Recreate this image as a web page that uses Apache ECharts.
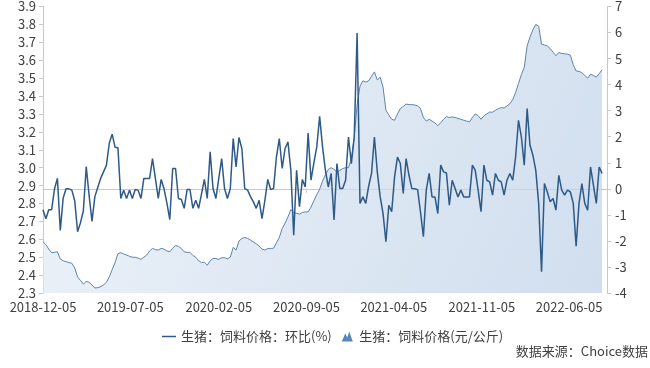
<!DOCTYPE html>
<html>
<head>
<meta charset="utf-8">
<script src="https://cdn.jsdelivr.net/npm/echarts@6/dist/echarts.min.js"></script>
<style>
html,body{margin:0;padding:0;background:#fff;}
#chart{width:650px;height:368px;}
</style>
</head>
<body>
<div id="chart"></div>
<script>
// ---- data ----
const startDate = [2018, 12, 5];      // first weekly observation (Wednesday)
const weekCount = 195;                // weekly observations
const axisEnd = [2022, 9, 5];
const tickDates = ['2018-12-05','2019-07-05','2020-02-05','2020-09-05','2021-04-05','2021-11-05','2022-06-05'];

const seriesRingName = '生猪：饲料价格：环比(%)';
const seriesPriceName = '生猪：饲料价格(元/公斤)';

// 生猪：饲料价格(元/公斤) — left axis
const priceVals = [
 2.586,2.57,2.545,2.525,2.527,2.53,2.49,2.48,2.475,2.47,
 2.466,2.44,2.39,2.37,2.35,2.365,2.36,2.345,2.328,2.33,
 2.335,2.345,2.36,2.39,2.43,2.47,2.52,2.525,2.518,2.512,
 2.505,2.50,2.499,2.495,2.488,2.50,2.512,2.535,2.549,2.542,
 2.54,2.549,2.545,2.535,2.53,2.55,2.566,2.56,2.548,2.53,
 2.527,2.527,2.51,2.50,2.48,2.47,2.472,2.455,2.48,2.493,
 2.492,2.488,2.497,2.497,2.49,2.50,2.555,2.54,2.59,2.605,
 2.61,2.605,2.595,2.585,2.575,2.562,2.545,2.54,2.548,2.549,
 2.55,2.58,2.61,2.66,2.69,2.725,2.765,2.75,2.745,2.74,
 2.75,2.753,2.753,2.78,2.815,2.85,2.88,2.925,2.96,2.99,
 3.0,2.99,2.975,2.985,2.995,3.0,3.0,3.05,3.17,3.35,
 3.455,3.485,3.478,3.485,3.51,3.535,3.49,3.505,3.45,3.32,
 3.295,3.27,3.265,3.30,3.33,3.342,3.355,3.352,3.352,3.35,
 3.345,3.33,3.28,3.26,3.27,3.26,3.25,3.235,3.25,3.27,
 3.285,3.28,3.283,3.28,3.275,3.27,3.265,3.26,3.255,3.28,
 3.30,3.29,3.27,3.29,3.30,3.31,3.31,3.32,3.33,3.335,
 3.333,3.345,3.357,3.38,3.42,3.47,3.52,3.56,3.68,3.73,
 3.77,3.80,3.79,3.69,3.685,3.68,3.665,3.645,3.625,3.643,
 3.638,3.636,3.634,3.628,3.575,3.54,3.538,3.53,3.515,3.50,
 3.522,3.515,3.506,3.525,3.547
];

// 生猪：饲料价格：环比(%) — right axis
const ringVals = [
 -0.8,-1.15,-0.8,-0.8,0.0,0.4,-1.6,-0.35,0.0,0.0,
 -0.05,-0.45,-1.65,-1.3,-0.85,0.85,-0.25,-1.25,-0.3,0.05,
 0.4,0.65,0.9,1.75,2.1,1.6,1.58,-0.37,-0.05,-0.37,
 -0.05,-0.37,-0.03,-0.05,-0.37,0.4,0.4,0.4,1.16,0.4,
 -0.37,0.36,0.0,-0.55,-1.18,0.78,0.78,-0.37,-0.41,-0.75,
 -0.03,-0.03,-0.75,-0.44,-0.75,-0.2,0.36,-0.37,1.42,0.01,
 -0.37,0.4,1.16,0.01,-0.37,0.01,1.93,0.84,1.97,1.55,
 0.01,-0.05,-0.3,-0.5,-0.75,-0.44,-1.14,-0.44,0.36,-0.03,
 0.01,1.22,1.93,0.78,1.55,1.8,0.71,-1.78,0.71,-0.69,
 0.36,0.07,2.14,0.33,1.0,1.61,2.78,1.61,0.71,0.07,
 0.59,-1.2,0.97,0.01,0.01,0.33,1.99,0.97,1.99,5.98,
 -0.56,-0.31,-0.56,0.1,0.59,1.99,0.65,-0.3,-0.95,-2.03,
 -0.63,-0.88,0.46,1.22,0.97,-0.18,1.16,0.52,0.01,0.0,
 -0.03,-0.9,-1.84,-0.05,0.59,-0.31,-0.31,-0.95,0.91,0.65,
 0.61,-0.63,0.33,0.01,-0.31,-0.05,-0.31,-0.31,-0.31,0.91,
 0.71,-0.05,-0.88,0.91,0.33,0.27,-0.24,0.59,0.33,0.27,
 -0.24,0.33,0.59,0.33,1.22,2.63,1.99,0.91,3.08,1.67,
 1.29,0.71,-0.56,-3.18,0.2,-0.12,-0.5,-0.37,-0.82,0.52,
 -0.05,-0.24,-0.05,-0.12,-0.56,-2.2,-0.56,0.2,-0.56,-0.82,
 0.84,0.14,-0.56,0.84,0.59
];

const leftTicks = {min: 2.3, max: 3.9, step: 0.1};
const rightTicks = {min: -4, max: 7, step: 1};

// ---- helpers ----
const DAY = 86400000;
const utc = (y, m, d) => Date.UTC(y, m - 1, d);
const startTs = utc(startDate[0], startDate[1], startDate[2]);
const dates = [];
for (let i = 0; i < weekCount; i++) dates.push(startTs + i * 7 * DAY);
const pad = n => (n < 10 ? '0' : '') + n;
const fmtDate = ts => { const d = new Date(ts); return d.getUTCFullYear() + '-' + pad(d.getUTCMonth() + 1) + '-' + pad(d.getUTCDate()); };
const parseDate = s => { const p = s.split('-').map(Number); return utc(p[0], p[1], p[2]); };
const tickTs = tickDates.map(parseDate);

const priceData = dates.map((t, i) => [t, priceVals[i]]);
const ringData = dates.map((t, i) => [t, ringVals[i]]);

const FONT = '"Noto Sans CJK SC", "Noto Sans", sans-serif';
const TXT = '#404040';
const AXC = '#c8c8c8';

const chart = echarts.init(document.getElementById('chart'), null, {renderer: 'canvas'});
chart.setOption({
  backgroundColor: '#ffffff',
  animation: false,
  textStyle: {fontFamily: FONT},
  grid: {left: 43, right: 43, top: 6, bottom: 75, containLabel: false},
  legend: {
    left: 157, top: 325,
    itemWidth: 14, itemHeight: 10, itemGap: 10,
    textStyle: {fontFamily: FONT, fontSize: 13, color: TXT},
    data: [
      {name: seriesRingName, icon: 'path://M0,0 H14 V1.5 H0 Z', itemStyle: {color: '#2e5a88'}},
      {name: seriesPriceName, icon: 'path://M0,10 L3.5,2 L5.5,6 L7.5,0 L11,10 Z', itemStyle: {color: '#5b84b8'}}
    ]
  },
  xAxis: {
    type: 'value',
    min: startTs,
    max: utc(axisEnd[0], axisEnd[1], axisEnd[2]),
    axisLine: {show: true, lineStyle: {color: AXC, width: 1}},
    axisTick: {show: true, length: 4, lineStyle: {color: AXC}, customValues: tickTs},
    axisLabel: {
      customValues: tickTs,
      formatter: v => fmtDate(v),
      color: TXT, fontFamily: FONT, fontSize: 13, margin: 8,
      hideOverlap: false
    },
    splitLine: {show: false}
  },
  yAxis: [
    {
      type: 'value', position: 'left',
      min: leftTicks.min, max: leftTicks.max, interval: leftTicks.step,
      axisLine: {show: true, lineStyle: {color: AXC}},
      axisTick: {show: true, length: 4, lineStyle: {color: AXC}},
      axisLabel: {formatter: v => v.toFixed(1), color: TXT, fontFamily: FONT, fontSize: 13, margin: 7},
      splitLine: {show: false}
    },
    {
      type: 'value', position: 'right',
      min: rightTicks.min, max: rightTicks.max, interval: rightTicks.step,
      axisLine: {show: true, lineStyle: {color: AXC}},
      axisTick: {show: true, length: 4, lineStyle: {color: AXC}},
      axisLabel: {color: TXT, fontFamily: FONT, fontSize: 13, margin: 8},
      splitLine: {show: false}
    }
  ],
  series: [
    {
      name: seriesPriceName,
      type: 'line',
      yAxisIndex: 0,
      data: priceData,
      symbol: 'none',
      z: 1,
      lineStyle: {color: '#5f84ad', width: 1},
      itemStyle: {color: '#5f84ad'},
      areaStyle: {
        origin: 'start',
        color: new echarts.graphic.LinearGradient(0, 0, 1, 1, [
          {offset: 0, color: '#e7eef7'},
          {offset: 1, color: '#bcd0e7'}
        ])
      }
    },
    {
      name: seriesRingName,
      type: 'line',
      yAxisIndex: 1,
      data: ringData,
      symbol: 'none',
      z: 3,
      lineStyle: {color: '#2e5a88', width: 1.5},
      itemStyle: {color: '#2e5a88'}
    }
  ],
  graphic: [
    {
      type: 'text', right: 2, top: 345,
      style: {text: '数据来源：Choice数据', font: '13px "Noto Sans CJK SC", sans-serif', fill: '#404040'}
    }
  ]
});
</script>
</body>
</html>
